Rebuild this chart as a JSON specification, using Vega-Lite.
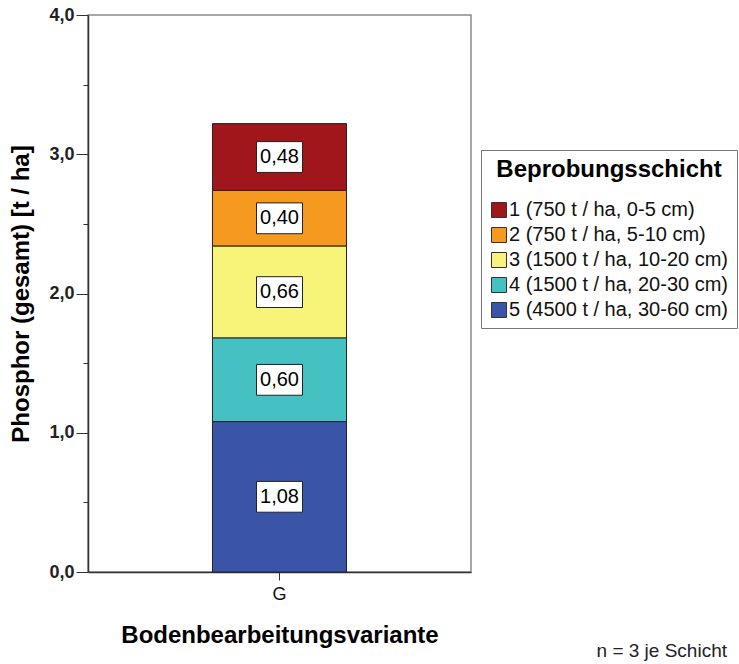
{
  "$schema": "https://vega.github.io/schema/vega-lite/v6.json",
  "width": 383,
  "height": 557,
  "autosize": {"type": "none"},
  "padding": {"left": 88, "top": 15, "right": 268, "bottom": 92},
  "background": "white",
  "config": {
    "locale": {"number": {"decimal": ",", "thousands": ".", "grouping": [3], "currency": ["", " €"]}},
    "font": "Liberation Sans",
    "view": {"stroke": "#8c8c8c", "strokeWidth": 1.5}
  },
  "title": {
    "text": "n = 3 je Schicht",
    "orient": "bottom",
    "anchor": "end",
    "frame": "group",
    "dx": 256,
    "offset": -5,
    "fontSize": 19,
    "fontWeight": "normal",
    "color": "#222"
  },
  "data": {
    "values": [
      {"Variante": "G", "Schicht": "1 (750 t / ha, 0-5 cm)", "Ordnung": 1, "P": 0.48},
      {"Variante": "G", "Schicht": "2 (750 t / ha, 5-10 cm)", "Ordnung": 2, "P": 0.40},
      {"Variante": "G", "Schicht": "3 (1500 t / ha, 10-20 cm)", "Ordnung": 3, "P": 0.66},
      {"Variante": "G", "Schicht": "4 (1500 t / ha, 20-30 cm)", "Ordnung": 4, "P": 0.60},
      {"Variante": "G", "Schicht": "5 (4500 t / ha, 30-60 cm)", "Ordnung": 5, "P": 1.08}
    ]
  },
  "transform": [
    {"stack": "P", "groupby": ["Variante"], "sort": [{"field": "Ordnung", "order": "descending"}], "as": ["p0", "p1"]},
    {"calculate": "(datum.p0 + datum.p1) / 2", "as": "pmid"}
  ],
  "encoding": {
    "x": {
      "field": "Variante",
      "type": "nominal",
      "scale": {"paddingInner": 0.3, "paddingOuter": 0.65},
      "axis": {
        "title": "Bodenbearbeitungsvariante",
        "titleFontSize": 24,
        "titleFontWeight": "bold",
        "titleColor": "#000",
        "titlePadding": 20,
        "labelAngle": 0,
        "labelFontSize": 18,
        "labelColor": "#111",
        "labelPadding": 5,
        "tickSize": 8,
        "tickColor": "#333",
        "domainColor": "#333",
        "domainWidth": 1.5
      }
    }
  },
  "layer": [
    {
      "mark": {"type": "bar", "stroke": "#222", "strokeWidth": 1},
      "encoding": {
        "y": {
          "field": "p0",
          "type": "quantitative",
          "scale": {"domain": [0, 4], "nice": false},
          "axis": {
            "title": "Phosphor (gesamt) [t / ha]",
            "titleFontSize": 24,
            "titleFontWeight": "bold",
            "titleColor": "#000",
            "titlePadding": 15,
            "values": [0, 0.5, 1, 1.5, 2, 2.5, 3, 3.5, 4],
            "format": ".1f",
            "labelExpr": "datum.value % 1 === 0 ? datum.label : ''",
            "labelFontSize": 18,
            "labelFontWeight": "bold",
            "labelColor": "#222",
            "labelPadding": 2,
            "tickSize": {"condition": {"test": "datum.value % 1 === 0", "value": 12}, "value": 5},
            "tickColor": "#333",
            "domainColor": "#333",
            "domainWidth": 1.5,
            "grid": false
          }
        },
        "y2": {"field": "p1"},
        "color": {
          "field": "Schicht",
          "type": "nominal",
          "scale": {
            "domain": ["1 (750 t / ha, 0-5 cm)", "2 (750 t / ha, 5-10 cm)", "3 (1500 t / ha, 10-20 cm)", "4 (1500 t / ha, 20-30 cm)", "5 (4500 t / ha, 30-60 cm)"],
            "range": ["#a0161a", "#f59a1f", "#f8f47a", "#45c1c3", "#3a55a8"]
          },
          "legend": {
            "title": "Beprobungsschicht",
            "orient": "none",
            "legendX": 393,
            "legendY": 135,
            "titleFontSize": 24,
            "titleFontWeight": "bold",
            "titleColor": "#000",
            "titleAnchor": "middle",
            "titlePadding": 18,
            "titleLimit": 400,
            "labelLimit": 400,
            "labelFontSize": 20,
            "labelColor": "#111",
            "symbolType": "square",
            "symbolSize": 225,
            "symbolStrokeColor": "#333",
            "symbolStrokeWidth": 1,
            "symbolOpacity": 1,
            "rowPadding": 5,
            "labelOffset": 0,
            "padding": 8,
            "strokeColor": "#777",
            "fillColor": "white",
            "cornerRadius": 0
          }
        }
      }
    },
    {
      "mark": {"type": "point", "shape": "M-1,-0.67L1,-0.67L1,0.67L-1,0.67Z", "filled": true, "fill": "white", "stroke": "#222", "strokeWidth": 1, "opacity": 1},
      "encoding": {
        "y": {"field": "pmid", "type": "quantitative"},
        "size": {"value": 2116}
      }
    },
    {
      "mark": {"type": "text", "fontSize": 20, "color": "#000", "baseline": "middle", "align": "center"},
      "encoding": {
        "y": {"field": "pmid", "type": "quantitative"},
        "text": {"field": "P", "type": "quantitative", "format": ".2f"}
      }
    }
  ]
}
